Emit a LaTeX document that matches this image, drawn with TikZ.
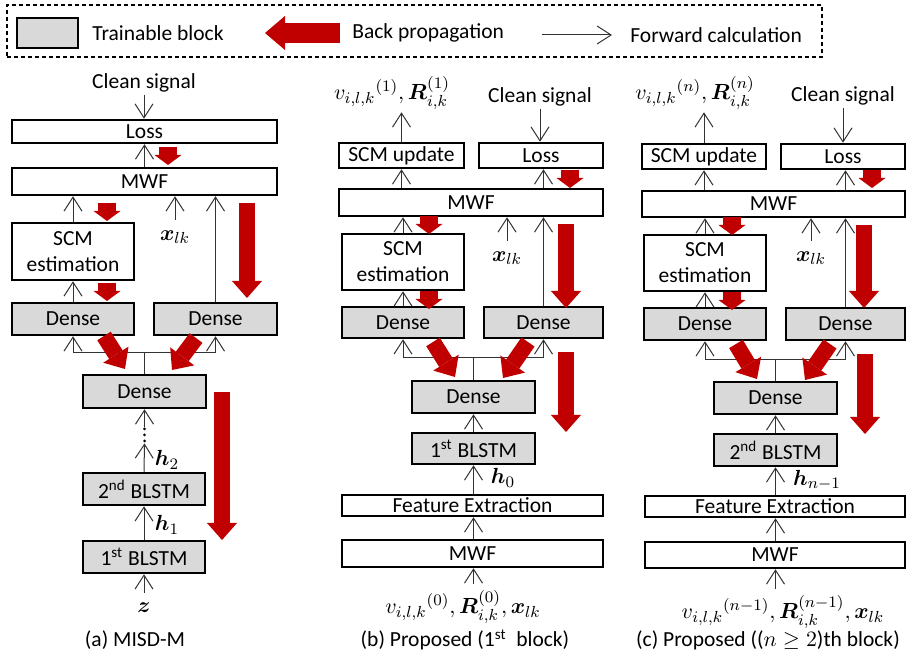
\documentclass[tikz,border=0pt]{standalone}
\usepackage{amsmath,bm}
\usepackage{fontspec}
\setmainfont{Carlito}
\usetikzlibrary{arrows.meta,calc}
\definecolor{bpred}{HTML}{C00000}
\definecolor{trgray}{HTML}{D9D9D9}
\newcommand\dfont{\fontsize{10.75}{13}\selectfont}
\newcommand\mkbox[7]{\node[#2, minimum width={(#5-#3)*0.5pt}, minimum height={(#6-#4)*0.5pt}] (#1) at ({(#3+#5)/2},{(#4+#6)/2}) {#7};}
\tikzset{
  blk/.style={draw, line width=1.25pt, inner sep=0pt, align=center, font=\dfont},
  trn/.style={blk, fill=trgray},
  lbl/.style={inner sep=1pt, font=\dfont},
  fwd/.style={draw=black!80, line width=0.5pt, -{Straight Barb[length=7pt,width=9pt]}},
  plain/.style={draw=black!80, line width=0.5pt},
  bpb/.style={draw=bpred, line width=8pt, -{Triangle[length=8.5pt,width=15pt,line width=0pt]}},
  bps/.style={draw=bpred, line width=9pt, -{Triangle[length=5pt,width=13.5pt,line width=0pt]}},
  bpl/.style={draw=bpred, line width=10pt, -{Triangle[length=10pt,width=17pt,line width=0pt]}},
  legbox/.style={draw, dash pattern=on 2pt off 1.5pt, line width=0.6pt, inner sep=0pt}
}
\begin{document}
\begin{tikzpicture}[x=0.5pt,y=-0.5pt]
\useasboundingbox (0,0) rectangle (907,658);
% ---------------- legend
\mkbox{leg}{legbox}{7}{5}{822}{57}{}
\mkbox{legsq}{trn}{17}{18}{78}{48}{}
\node[lbl, anchor=west] (legt1) at (90,33) {Trainable block};
\coordinate (lga) at (340,33);
\coordinate (lgb) at (265,33);
\draw[bpl] (lga) -- (lgb);
\node[lbl, anchor=west] (legt2) at (350,33) {Back propagation};
\coordinate (lfa) at (542,35);
\coordinate (lfb) at (612,35);
\draw[fwd] (lfa) -- (lfb);
\node[lbl, anchor=west] (legt3) at (628,35) {Forward calculation};

% ---------------- panel (a)
\node[lbl] (cs_a) at (144,83) {Clean signal};
\mkbox{Loss_a}{blk}{12}{120}{277}{143}{Loss}
\mkbox{MWF_a}{blk}{12}{168}{277}{195}{MWF}
\mkbox{SCM_a}{blk}{12}{223}{134}{280}{SCM\\estimation}
\mkbox{DL_a}{trn}{12}{303}{134}{335}{Dense}
\mkbox{DR_a}{trn}{154}{303}{277}{335}{Dense}
\mkbox{DM_a}{trn}{83}{375}{206}{408}{Dense}
\mkbox{B2_a}{trn}{83}{473}{205}{505}{2\textsuperscript{nd} BLSTM}
\mkbox{B1_a}{trn}{83}{541}{205}{573}{1\textsuperscript{st} BLSTM}
\node[lbl] (x_a) at (175,237) {$\bm{x}_{lk}$};
\node[lbl] (h2_a) at (167,460) {$\bm{h}_2$};
\node[lbl] (h1_a) at (167,525) {$\bm{h}_1$};
\node[lbl] (z_a) at (144,608) {$\bm{z}$};
\node[lbl] (cap_a) at (135,640) {(a) MISD-M};
\node[inner sep=0pt, minimum width=2pt, minimum height=8pt] (dots_a) at (144.5,435) {};
\foreach \yy in {429,435,441} \fill (144.5,\yy) circle (0.75pt);

\draw[fwd] (cs_a.south) -- (cs_a.south |- Loss_a.north);
\draw[fwd] (MWF_a.north) -- (Loss_a.south);
\draw[fwd] (SCM_a.north) -- (SCM_a.north |- MWF_a.south);
\path (x_a.north) ++(0,-8) coordinate (xt_a);
\draw[fwd] (xt_a) -- (xt_a |- MWF_a.south);
\draw[fwd] (DR_a.north) -- (DR_a.north |- MWF_a.south);
\draw[fwd] (DL_a.north) -- (SCM_a.south);
\coordinate (J_a) at (144.5,353);
\draw[plain] (DM_a.north) -- (J_a);
\draw[plain] (DL_a.south |- J_a) -- (DR_a.south |- J_a);
\draw[fwd] (DL_a.south |- J_a) -- (DL_a.south);
\draw[fwd] (DR_a.south |- J_a) -- (DR_a.south);
\draw[fwd] (dots_a.north) -- (DM_a.south);
\draw[fwd] (B2_a.north) -- (dots_a.south);
\draw[fwd] (B1_a.north) -- (B2_a.south);
\path (z_a.north) ++(0,-8) coordinate (zt_a);
\draw[fwd] (B1_a.south |- zt_a) -- (B1_a.south);

\draw[bps] (168,147) -- (168,165);
\draw[bps] (107,203) -- (107,221);
\draw[bps] (107,283) -- (107,301);
\draw[bpb] (247,203) -- (247,298);
\draw[bpb] (104,336) -- (125,369);
\draw[bpb] (196,338) -- (172,370);
\draw[bpb] (222,392) -- (222,540);

% ---------------- panel (b)
\node[lbl] (top_b) at (392,93) {$v_{i,l,k}{}^{(1)}, \bm{R}_{i,k}^{(1)}$};
\node[lbl] (cs_b) at (540,97) {Clean signal};
\mkbox{SU_b}{blk}{339}{143}{464}{168}{SCM update}
\mkbox{Loss_b}{blk}{479}{143}{603}{168}{Loss}
\mkbox{MWF_b}{blk}{339}{189}{603}{216}{MWF}
\mkbox{SCM_b}{blk}{342}{234}{464}{290}{SCM\\estimation}
\mkbox{DL_b}{trn}{342}{307}{464}{338}{Dense}
\mkbox{DR_b}{trn}{484}{307}{603}{338}{Dense}
\mkbox{DM_b}{trn}{412}{381}{535}{413}{Dense}
\mkbox{B1_b}{trn}{412}{433}{535}{464}{1\textsuperscript{st} BLSTM}
\mkbox{FE_b}{blk}{342}{495}{603}{516}{Feature Extraction}
\mkbox{M2_b}{blk}{342}{540}{603}{567}{MWF}
\node[lbl] (x_b) at (507,258) {$\bm{x}_{lk}$};
\node[lbl] (h0_b) at (503,478) {$\bm{h}_0$};
\node[lbl] (in_b) at (463,607) {$v_{i,l,k}{}^{(0)}, \bm{R}_{i,k}^{(0)}, \bm{x}_{lk}$};
\node[lbl] (cap_b) at (465,640) {(b) Proposed (1\textsuperscript{st}~ block)};

\draw[fwd] (SU_b.north) -- (SU_b.north |- top_b.south);
\draw[fwd] (cs_b.south) -- (cs_b.south |- Loss_b.north);
\draw[fwd] (SU_b.south |- MWF_b.north) -- (SU_b.south);
\draw[fwd] (DR_b.north |- MWF_b.north) -- (DR_b.north |- Loss_b.south);
\draw[fwd] (SCM_b.north) -- (SCM_b.north |- MWF_b.south);
\path (x_b.north) ++(0,-8) coordinate (xt_b);
\draw[fwd] (xt_b) -- (xt_b |- MWF_b.south);
\draw[fwd] (DR_b.north) -- (DR_b.north |- MWF_b.south);
\draw[fwd] (DL_b.north) -- (SCM_b.south);
\coordinate (J_b) at (473.5,358);
\draw[plain] (DM_b.north) -- (J_b);
\draw[plain] (DL_b.south |- J_b) -- (DR_b.south |- J_b);
\draw[fwd] (DL_b.south |- J_b) -- (DL_b.south);
\draw[fwd] (DR_b.south |- J_b) -- (DR_b.south);
\draw[fwd] (B1_b.north) -- (DM_b.south);
\draw[fwd] (B1_b.south |- FE_b.north) -- (B1_b.south);
\draw[fwd] (B1_b.south |- M2_b.north) -- (B1_b.south |- FE_b.south);
\path (in_b.north) ++(0,-4) coordinate (it_b);
\draw[fwd] (B1_b.south |- it_b) -- (B1_b.south |- M2_b.south);

\draw[bps] (570,170) -- (570,188);
\draw[bps] (429,216) -- (429,234);
\draw[bps] (429,291) -- (429,309);
\draw[bpb] (566,224) -- (566,308);
\draw[bpb] (433,342) -- (455,377);
\draw[bpb] (528,342) -- (503,378);
\draw[bpb] (566,352) -- (566,432);

% ---------------- panel (c)
\node[lbl] (top_c) at (695,93) {$v_{i,l,k}{}^{(n)}, \bm{R}_{i,k}^{(n)}$};
\node[lbl] (cs_c) at (843,96) {Clean signal};
\mkbox{SU_c}{blk}{642}{144}{766}{169}{SCM update}
\mkbox{Loss_c}{blk}{781}{144}{905}{169}{Loss}
\mkbox{MWF_c}{blk}{642}{191}{905}{217}{MWF}
\mkbox{SCM_c}{blk}{644}{235}{766}{291}{SCM\\estimation}
\mkbox{DL_c}{trn}{644}{308}{766}{340}{Dense}
\mkbox{DR_c}{trn}{786}{308}{905}{340}{Dense}
\mkbox{DM_c}{trn}{714}{382}{837}{414}{Dense}
\mkbox{B2_c}{trn}{714}{434}{837}{466}{2\textsuperscript{nd} BLSTM}
\mkbox{FE_c}{blk}{645}{496}{905}{517}{Feature Extraction}
\mkbox{M2_c}{blk}{645}{542}{905}{568}{MWF}
\node[lbl] (x_c) at (811,258) {$\bm{x}_{lk}$};
\node[lbl] (hn_c) at (817,480) {$\bm{h}_{n-1}$};
\node[lbl] (in_c) at (783,612) {$v_{i,l,k}{}^{(n-1)}, \bm{R}_{i,k}^{(n-1)}, \bm{x}_{lk}$};
\node[lbl] (cap_c) at (768,640) {(c) Proposed (($n \geq 2$)th block)};

\draw[fwd] (SU_c.north) -- (SU_c.north |- top_c.south);
\draw[fwd] (cs_c.south) -- (cs_c.south |- Loss_c.north);
\draw[fwd] (SU_c.south |- MWF_c.north) -- (SU_c.south);
\draw[fwd] (DR_c.north |- MWF_c.north) -- (DR_c.north |- Loss_c.south);
\draw[fwd] (SCM_c.north) -- (SCM_c.north |- MWF_c.south);
\path (x_c.north) ++(0,-8) coordinate (xt_c);
\draw[fwd] (xt_c) -- (xt_c |- MWF_c.south);
\draw[fwd] (DR_c.north) -- (DR_c.north |- MWF_c.south);
\draw[fwd] (DL_c.north) -- (SCM_c.south);
\coordinate (J_c) at (775.5,360);
\draw[plain] (DM_c.north) -- (J_c);
\draw[plain] (DL_c.south |- J_c) -- (DR_c.south |- J_c);
\draw[fwd] (DL_c.south |- J_c) -- (DL_c.south);
\draw[fwd] (DR_c.south |- J_c) -- (DR_c.south);
\draw[fwd] (B2_c.north) -- (DM_c.south);
\draw[fwd] (B2_c.south |- FE_c.north) -- (B2_c.south);
\draw[fwd] (B2_c.south |- M2_c.north) -- (B2_c.south |- FE_c.south);
\path (in_c.north) ++(0,-4) coordinate (it_c);
\draw[fwd] (B2_c.south |- it_c) -- (B2_c.south |- M2_c.south);

\draw[bps] (872,170) -- (872,188);
\draw[bps] (732,217) -- (732,235);
\draw[bps] (732,292) -- (732,310);
\draw[bpb] (864,225) -- (864,308);
\draw[bpb] (736,344) -- (757,379);
\draw[bpb] (830,344) -- (805,380);
\draw[bpb] (865,354) -- (865,434);
\end{tikzpicture}
\end{document}
